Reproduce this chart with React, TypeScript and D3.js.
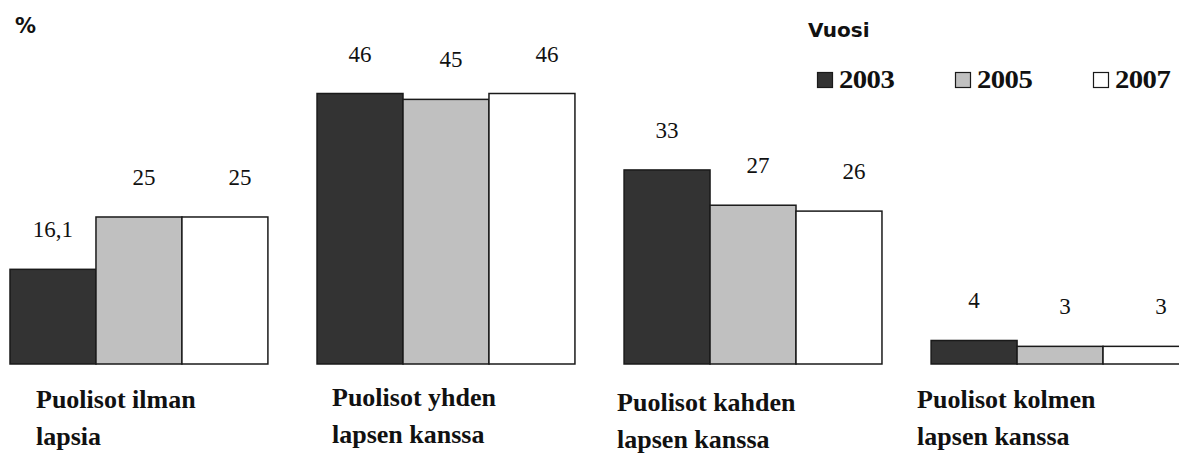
import * as d3 from "d3";

const categories = [
  ["Puolisot ilman", "lapsia"],
  ["Puolisot yhden", "lapsen kanssa"],
  ["Puolisot kahden", "lapsen kanssa"],
  ["Puolisot kolmen", "lapsen kanssa"],
];
const years = ["2003", "2005", "2007"];
const values2003 = [16.1, 46, 33, 4];
const values2005 = [25, 45, 27, 3];
const values2007 = [25, 46, 26, 3];
const labels2003 = ["16,1", "46", "33", "4"];
const labels2005 = ["25", "45", "27", "3"];
const labels2007 = ["25", "46", "26", "3"];

const series = [
  { year: years[0], values: values2003, labels: labels2003 },
  { year: years[1], values: values2005, labels: labels2005 },
  { year: years[2], values: values2007, labels: labels2007 },
];

const W = 1179;
const H = 454;
const fills = ["#333333", "#c0c0c0", "#ffffff"];
const stroke = "#1a1a1a";
// small hand-tuned nudges seen in the original image
const valueDx = [0, 5, 15];
const catDx = [26, 15, -7, -14];
const catDy = [0, -2, 3, 0];

export default function App() {
  const keys = categories.map((c) => c.join(" "));
  const x0 = d3.scaleBand().domain(keys).range([10, 1189]).paddingInner(0.16).paddingOuter(0);
  const x1 = d3.scaleBand().domain(years).range([0, x0.bandwidth()]);
  const y = d3.scaleLinear().domain([0, 46]).range([364, 93.5]);

  const bars = [];
  const valueTexts = [];
  keys.forEach((k, ci) => {
    series.forEach((s, si) => {
      const bx = (x0(k) as number) + (x1(s.year) as number);
      const v = s.values[ci];
      bars.push(
        <rect
          key={k + s.year}
          x={bx}
          y={y(v)}
          width={x1.bandwidth()}
          height={y(0) - y(v)}
          fill={fills[si]}
          stroke={stroke}
          strokeWidth={1.5}
        />
      );
      valueTexts.push(
        <text
          key={"v" + k + s.year}
          x={bx + x1.bandwidth() / 2 + valueDx[si]}
          y={y(v) - 32}
          textAnchor="middle"
          fontFamily="Liberation Serif"
          fontSize={23}
          fill="#111"
        >
          {s.labels[ci]}
        </text>
      );
    });
  });

  return (
    <svg width={W} height={H} style={{ position: "absolute", left: 0, top: 0, background: "#fff" }}>
      <text x={15} y={33} fontFamily="DejaVu Sans" fontWeight="bold" fontSize={21} fill="#111">
        %
      </text>
      <text x={808} y={37} fontFamily="DejaVu Sans" fontWeight="bold" fontSize={20} fill="#111">
        Vuosi
      </text>
      {series.map((s, i) => (
        <rect
          key={"lg" + s.year}
          x={817.5 + i * 138}
          y={72.5}
          width={15}
          height={15}
          fill={fills[i]}
          stroke={stroke}
          strokeWidth={1.2}
        />
      ))}
      {series.map((s, i) => (
        <text
          key={"lt" + s.year}
          x={0}
          y={88}
          fontFamily="Liberation Serif"
          fontWeight="bold"
          fontSize={25}
          letterSpacing={-0.5}
          transform={`translate(${839 + i * 138},0) scale(1.15,1)`}
          fill="#111"
        >
          {s.year}
        </text>
      ))}
      {bars}
      {valueTexts}
      {keys.map((k, ci) => (
        <text
          key={"c1" + k}
          x={(x0(k) as number) + catDx[ci]}
          y={408 + catDy[ci]}
          fontFamily="Liberation Serif"
          fontWeight="bold"
          fontSize={26}
          fill="#111"
        >
          {categories[ci][0]}
        </text>
      ))}
      {keys.map((k, ci) => (
        <text
          key={"c2" + k}
          x={(x0(k) as number) + catDx[ci]}
          y={445 + catDy[ci]}
          fontFamily="Liberation Serif"
          fontWeight="bold"
          fontSize={26}
          fill="#111"
        >
          {categories[ci][1]}
        </text>
      ))}
    </svg>
  );
}
